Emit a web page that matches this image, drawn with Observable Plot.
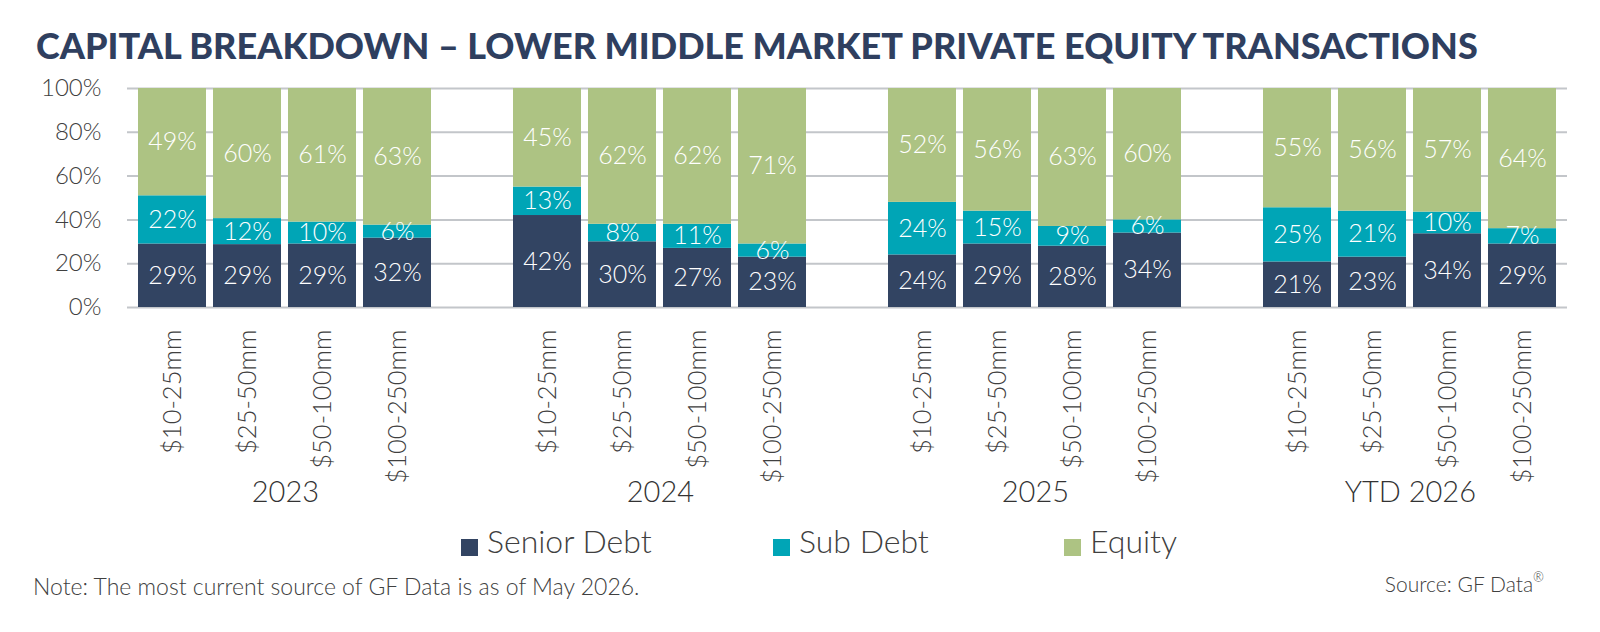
<!DOCTYPE html>
<html><head><meta charset="utf-8">
<script src="https://cdn.jsdelivr.net/npm/d3@7"></script>
<script src="https://cdn.jsdelivr.net/npm/@observablehq/plot@0.6"></script>
<style>
body{margin:0;background:#fff;width:1600px;height:632px;position:relative;overflow:hidden;font-family:Lato,"Open Sans",sans-serif;}
#title{position:absolute;left:36px;top:27px;font-weight:900;font-size:36px;line-height:1;color:#2f3f5f;white-space:nowrap;}
#chart{position:absolute;left:0;top:72px;}
.leg{position:absolute;top:525px;display:flex;align-items:flex-start;font-size:32px;font-weight:300;line-height:1;color:#404040;white-space:nowrap;}
.sw{width:17px;height:17px;margin-top:14px;margin-right:9px;}
#note{position:absolute;left:33px;top:575px;font-size:23px;font-weight:300;line-height:1;color:#404040;white-space:nowrap;}
#source{position:absolute;right:56px;top:573px;font-size:21px;font-weight:300;line-height:1;color:#404040;white-space:nowrap;}
#source sup{font-size:13px;vertical-align:top;position:relative;top:-2px;}
</style></head>
<body>
<div id="title">CAPITAL BREAKDOWN – LOWER MIDDLE MARKET PRIVATE EQUITY TRANSACTIONS</div>
<div id="chart"></div>
<div class="leg" style="left:461px"><div class="sw" style="background:#324462"></div>Senior Debt</div>
<div class="leg" style="left:773px"><div class="sw" style="background:#00a5b6"></div>Sub Debt</div>
<div class="leg" style="left:1064px"><div class="sw" style="background:#adc383"></div>Equity</div>
<div id="note">Note: The most current source of GF Data is as of May 2026.</div>
<div id="source">Source: GF Data<sup>®</sup></div>
<script>
const years = ["2023", "2024", "2025", "YTD 2026"];
const sizes = ["$10-25mm", "$25-50mm", "$50-100mm", "$100-250mm"];
const components = ["Senior Debt", "Sub Debt", "Equity"];
const colors = ["#324462", "#00a5b6", "#adc383"];
const seniorDebt = [
  [29, 29, 29, 32],
  [42, 30, 27, 23],
  [24, 29, 28, 34],
  [21, 23, 34, 29]
];
const subDebt = [
  [22, 12, 10, 6],
  [13, 8, 11, 6],
  [24, 15, 9, 6],
  [25, 21, 10, 7]
];
const equity = [
  [49, 60, 61, 63],
  [45, 62, 62, 71],
  [52, 56, 63, 60],
  [55, 56, 57, 64]
];
const yTicks = [0, 0.2, 0.4, 0.6, 0.8, 1];

const series = [seniorDebt, subDebt, equity];
const key = (y, s) => `${y}|${s}`;
const data = [];
years.forEach((yr, i) => sizes.forEach((sz, j) => components.forEach((c, k) => {
  data.push({key: key(yr, sz), year: yr, size: sz, component: c, value: series[k][i][j]});
})));
// x domain: bars of each year, with one empty slot between year groups
const domain = [];
years.forEach((yr, i) => {
  if (i > 0) domain.push(`gap${i}`);
  sizes.forEach(sz => domain.push(key(yr, sz)));
});

const width = 1600, marginLeft = 127, marginRight = 33;
const step = (width - marginLeft - marginRight) / domain.length;
const stackOpts = {x: "key", y: "value", z: "component", order: components, offset: "normalize"};

const plot = Plot.plot({
  width,
  height: 470,
  marginLeft,
  marginRight,
  marginTop: 16,
  marginBottom: 235,
  style: {fontFamily: "Lato, 'Open Sans', sans-serif", fontSize: "24px", color: "#404040", background: "transparent", overflow: "visible"},
  x: {domain, paddingInner: 0.1, paddingOuter: 0.05, axis: null},
  y: {domain: [0, 1], axis: null},
  color: {domain: components, range: colors},
  marks: [
    Plot.gridY(yTicks, {stroke: "#c3c6ca", strokeOpacity: 1, strokeWidth: 2}),
    Plot.barY(data, {...Plot.stackY(stackOpts), fill: "component"}),
    Plot.text(data, Plot.stackY({...stackOpts, text: d => `${d.value}%`, fill: "white", fontSize: 25, fontWeight: 300})),
    Plot.axisY(yTicks, {label: null, tickFormat: d => `${Math.round(d * 100)}%`, tickSize: 0, tickPadding: 26, fontSize: 24, fontWeight: 300}),
    Plot.axisX(domain.filter(d => !d.startsWith("gap")), {label: null, tickFormat: d => d.split("|")[1], tickRotate: -90, tickSize: 0, tickPadding: 22, fontSize: 25.5, fontWeight: 300}),
    Plot.text(years, {x: yr => key(yr, sizes[1]), dx: step / 2, frameAnchor: "bottom", lineAnchor: "middle", dy: 185, text: d => d, fontSize: 29, fontWeight: 300, fill: "#333"})
  ]
});
document.getElementById("chart").appendChild(plot);
</script>
</body></html>
